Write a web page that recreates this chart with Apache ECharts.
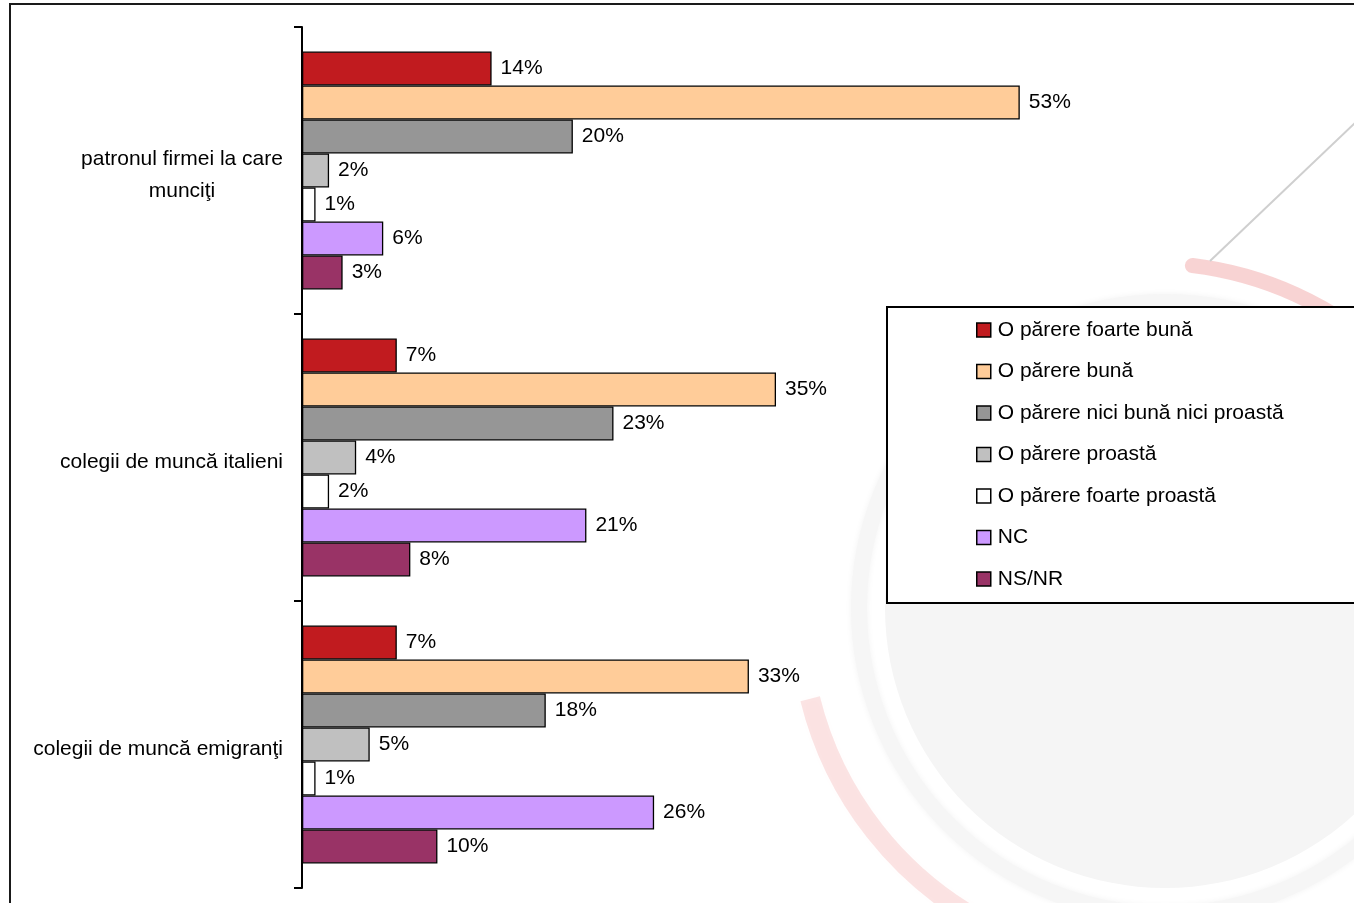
<!DOCTYPE html>
<html>
<head>
<meta charset="utf-8">
<title>Părerea despre patroni şi colegi</title>
<script src="https://cdn.jsdelivr.net/npm/echarts@6/dist/echarts.min.js"></script>
<style>
  html, body { margin: 0; padding: 0; background: #fff; }
  #chart { width: 1354px; height: 903px; }
</style>
</head>
<body>
<div id="chart"></div>
<script>
// Categories (top to bottom)
const categories = [
  'patronul firmei la care\nmunciţi',
  'colegii de muncă italieni',
  'colegii de muncă emigranţi'
];

// Answer options, in legend order
const seriesNames = [
  'O părere foarte bună',
  'O părere bună',
  'O părere nici bună nici proastă',
  'O părere proastă',
  'O părere foarte proastă',
  'NC',
  'NS/NR'
];

// Percentages per category
const foarteBuna    = [14, 7, 7];
const buna          = [53, 35, 33];
const niciBunaNici  = [20, 23, 18];
const proasta       = [2, 4, 5];
const foarteProasta = [1, 2, 1];
const nc            = [6, 21, 26];
const nsnr          = [3, 8, 10];

const seriesValues = [foarteBuna, buna, niciBunaNici, proasta, foarteProasta, nc, nsnr];
const seriesColors = ['#C11B1F', '#FFCC99', '#969696', '#C0C0C0', '#FFFFFF', '#CC99FF', '#993366'];

const FONT = '"Liberation Sans", Arial, sans-serif';
const FONT_SIZE = 21;

const chart = echarts.init(document.getElementById('chart'), null, { renderer: 'canvas' });

const series = seriesNames.map((name, i) => ({
  name: name,
  type: 'bar',
  data: seriesValues[i],
  barWidth: 34,
  barGap: '0%',
  itemStyle: { color: seriesColors[i], borderColor: '#000', borderWidth: 1.3 },
  label: {
    show: true,
    position: 'right',
    distance: 9,
    formatter: '{c}%',
    color: '#000',
    fontFamily: FONT,
    fontSize: FONT_SIZE,
    padding: [3, 0, 0, 0]
  },
  emphasis: { disabled: true }
}));

const option = {
  backgroundColor: '#fff',
  animation: false,
  textStyle: { fontFamily: FONT },
  grid: { left: 302, right: 104, top: 27, bottom: 15, containLabel: false, outerBoundsMode: 'none' },
  xAxis: {
    type: 'value',
    min: 0,
    max: 70,
    show: false
  },
  yAxis: {
    type: 'category',
    data: categories,
    inverse: true,
    axisLine: { show: true, lineStyle: { color: '#000', width: 2 } },
    axisTick: { show: true, length: 8, lineStyle: { color: '#000', width: 2 } },
    axisLabel: {
      margin: 19,
      color: '#000',
      fontFamily: FONT,
      fontSize: FONT_SIZE,
      padding: [10, 0, 0, 0],
      formatter: function (v) {
        if (v.indexOf('\n') >= 0) {
          return v.split('\n').map(s => '{c|' + s + '}').join('\n');
        }
        return v;
      },
      rich: {
        c: { width: 202, align: 'center', fontFamily: FONT, fontSize: FONT_SIZE, lineHeight: 32, color: '#000' }
      }
    },
    splitLine: { show: false }
  },
  legend: {
    orient: 'vertical',
    left: 976,
    top: 318,
    padding: 0,
    itemWidth: 14,
    itemHeight: 14,
    itemGap: 17.5,
    icon: 'rect',
    selectedMode: false,
    data: seriesNames,
    textStyle: { color: '#000', fontFamily: FONT, fontSize: FONT_SIZE, lineHeight: 24, padding: [0, 0, 0, 2] },
    itemStyle: { borderColor: '#000', borderWidth: 1.5 }
  },
  graphic: [
    // faint emblem in the background
    { type: 'arc', z: 0, silent: true,
      shape: { cx: 1165, cy: 608, r: 306, startAngle: 0, endAngle: Math.PI * 2 },
      style: { stroke: '#f6f6f6', lineWidth: 16, fill: 'none', shadowBlur: 6, shadowColor: '#f3f3f3' } },
    { type: 'circle', z: 0, silent: true,
      shape: { cx: 1165, cy: 608, r: 280 },
      style: { fill: '#f5f5f5' } },
    { type: 'arc', z: 0, silent: true,
      shape: { cx: 1150, cy: 615, r: 352, startAngle: -1.45, endAngle: -0.2, clockwise: true },
      style: { stroke: 'rgba(228,80,80,0.25)', lineWidth: 15, fill: 'none', lineCap: 'round' } },
    { type: 'arc', z: 0, silent: true,
      shape: { cx: 1150, cy: 615, r: 350, startAngle: 2.05, endAngle: 2.9, clockwise: true },
      style: { stroke: 'rgba(228,80,80,0.15)', lineWidth: 20, fill: 'none', shadowBlur: 8, shadowColor: 'rgba(228,80,80,0.1)' } },
    { type: 'line', z: 0, silent: true,
      shape: { x1: 1210, y1: 261, x2: 1356, y2: 122 },
      style: { stroke: '#cfcfcf', lineWidth: 2 } },
    // outer frame
    { type: 'rect', z: 1, silent: true,
      shape: { x: 10, y: 4, width: 1400, height: 960 },
      style: { fill: 'none', stroke: '#1a1a1a', lineWidth: 2 } },
    // legend box
    { type: 'rect', z: 3, silent: true,
      shape: { x: 887, y: 307, width: 520, height: 296 },
      style: { fill: '#fff', stroke: '#000', lineWidth: 2 } }
  ],
  series: series
};

chart.setOption(option);
</script>
</body>
</html>
